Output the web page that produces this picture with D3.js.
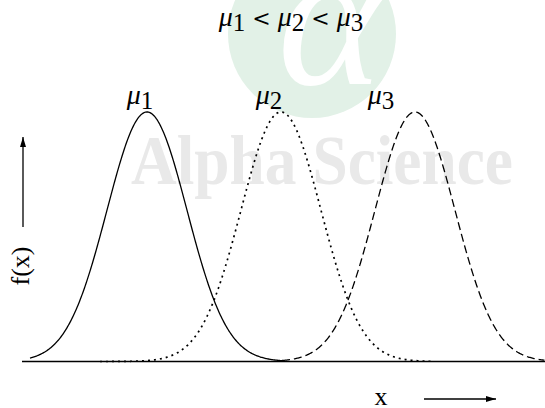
<!DOCTYPE html>
<html>
<head>
<meta charset="utf-8">
<script src="https://cdn.jsdelivr.net/npm/d3@7"></script>
<style>
  html, body { margin: 0; padding: 0; background: #fff; }
  svg { display: block; }
  text { font-family: "Liberation Serif", "Times New Roman", "DejaVu Serif", serif; fill: #000; }
</style>
</head>
<body>
<svg id="chart" width="545" height="408"></svg>
<script>
// Three normal densities with equal spread and increasing means
const curveNames = ["1", "2", "3"];
const means = [0, 3.35, 6.7];
const sigma = 1;
// Horizontal extent over which each density is traced
const curveStart = [-2.925, -1.175, 3.375];
const curveEnd = [3.375, 7.2, 9.95];
// Where each μ label sits along x
const labelX = [-0.175, 3.05, 5.85];
const dashStyles = ["none", "2,4", "8,4"];

const svg = d3.select("#chart");

const x = d3.scaleLinear().domain([-3.125, 9.95]).range([22, 545]);
const y = d3.scaleLinear().domain([0, 0.4]).range([361.5, 111.3]);

const pdf = (v, m, s) => Math.exp(-0.5 * ((v - m) / s) ** 2) / (s * Math.sqrt(2 * Math.PI));

// Publisher watermark behind the drawing
const wm = svg.append("g");
wm.append("circle").attr("cx", 312).attr("cy", 34).attr("r", 84).attr("fill", "#e2f1e7");
wm.append("text").attr("x", 330).attr("y", 84).attr("text-anchor", "middle")
  .attr("font-size", 200).attr("font-style", "italic").style("fill", "#ffffff").text("α");
wm.append("text").attr("x", 131).attr("y", 184)
  .attr("font-size", 70).attr("font-weight", "bold")
  .attr("textLength", 382).attr("lengthAdjust", "spacingAndGlyphs")
  .style("fill", "#e9e9e9").text("Alpha Science");

// Writes μ with a subscript index into a text node; returns the drop to undo
function mu(sel, idx, subSize, drop) {
  sel.append("tspan").attr("font-style", "italic").text("μ");
  sel.append("tspan").attr("font-size", subSize).attr("dy", drop).text(idx);
  return drop;
}

// Heading: μ1 < μ2 < μ3
const title = svg.append("text").attr("x", 291).attr("y", 26)
  .attr("text-anchor", "middle").attr("font-size", 28);
let pending = 0;
curveNames.forEach((n, i) => {
  if (i > 0) {
    title.append("tspan").attr("dy", -pending)
      .attr("font-family", "'DejaVu Serif', serif").attr("font-size", 22)
      .text(" < ");
  }
  pending = mu(title, n, 25, 5);
});

// Horizontal axis line
svg.append("line")
  .attr("x1", x.range()[0]).attr("x2", x.range()[1])
  .attr("y1", y(0)).attr("y2", y(0))
  .attr("stroke", "#000").attr("stroke-width", 1.6);

// Density curves
const line = d3.line().x(d => x(d[0])).y(d => y(d[1]));
means.forEach((m, i) => {
  const pts = d3.range(curveStart[i], curveEnd[i] + 1e-9, 0.02)
    .map(v => [v, pdf(v, m, sigma)]);
  svg.append("path")
    .attr("d", line(pts))
    .attr("fill", "none")
    .attr("stroke", "#000")
    .attr("stroke-width", i === 1 ? 1.7 : 1.3)
    .attr("stroke-dasharray", dashStyles[i]);

  const lab = svg.append("text")
    .attr("x", x(labelX[i])).attr("y", 104)
    .attr("text-anchor", "middle").attr("font-size", 28);
  mu(lab, curveNames[i], 25, 5);
});

// Arrowhead marker
svg.append("defs").append("marker")
  .attr("id", "head").attr("viewBox", "0 0 10 6")
  .attr("refX", 10).attr("refY", 3)
  .attr("markerWidth", 10).attr("markerHeight", 6)
  .attr("markerUnits", "userSpaceOnUse")
  .attr("orient", "auto")
  .append("path").attr("d", "M0,0 L10,3 L0,6 Z").attr("fill", "#000");

// Vertical axis caption with upward arrow
svg.append("text")
  .attr("transform", "translate(29,266) rotate(-90)")
  .attr("text-anchor", "middle").attr("font-size", 26).text("f(x)");
svg.append("line")
  .attr("x1", 23).attr("x2", 23).attr("y1", 227).attr("y2", 137)
  .attr("stroke", "#000").attr("stroke-width", 1.3)
  .attr("marker-end", "url(#head)");

// Horizontal axis caption with right arrow
svg.append("text")
  .attr("x", 381).attr("y", 405)
  .attr("text-anchor", "middle").attr("font-size", 26).text("x");
svg.append("line")
  .attr("x1", 424).attr("x2", 496).attr("y1", 399).attr("y2", 399)
  .attr("stroke", "#000").attr("stroke-width", 1.3)
  .attr("marker-end", "url(#head)");
</script>
</body>
</html>
